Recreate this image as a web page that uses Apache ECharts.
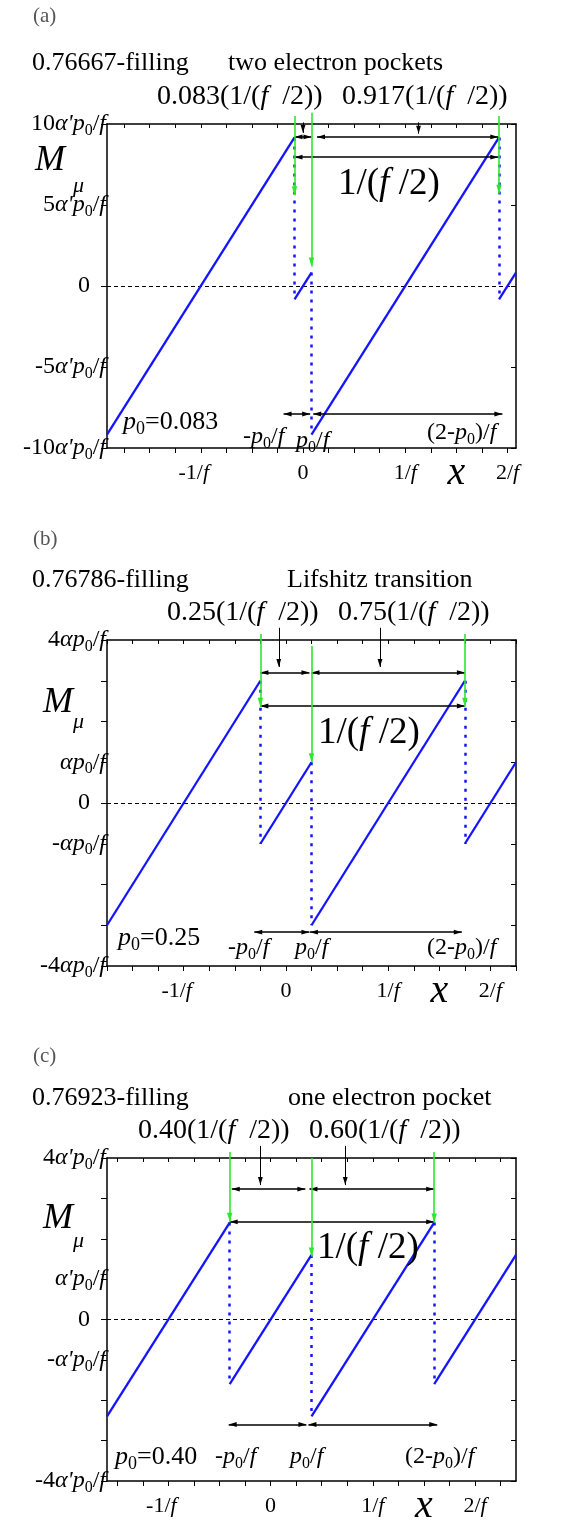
<!DOCTYPE html>
<html><head><meta charset="utf-8">
<script src="https://cdn.jsdelivr.net/npm/echarts@6/dist/echarts.min.js"></script>
<style>html,body{margin:0;padding:0;background:#fff}#c{width:567px;height:1526px}</style>
</head><body><div id="c"></div>
<script>
// ---------------- data ----------------
const panelTags = ['(a)', '(b)', '(c)'];
const fillings = ['0.76667-filling', '0.76786-filling', '0.76923-filling'];
const regimes = ['two electron pockets', 'Lifshitz transition', 'one electron pocket'];
const p0Values = ['0.083', '0.25', '0.40'];
const shortFractions = ['0.083', '0.25', '0.40'];
const longFractions = ['0.917', '0.75', '0.60'];
const xLimits = [[-1.917, 2.083], [-1.75, 2.25], [-1.6, 2.4]];
const yLimits = [[-10, 10], [-4, 4], [-4, 4]];
const xTickValues = [
  [-1.75, -1.5, -1.25, -1, -0.75, -0.5, -0.25, 0, 0.25, 0.5, 0.75, 1, 1.25, 1.5, 1.75, 2],
  [-1.75, -1.5, -1.25, -1, -0.75, -0.5, -0.25, 0, 0.25, 0.5, 0.75, 1, 1.25, 1.5, 1.75, 2, 2.25],
  [-1.5, -1.25, -1, -0.75, -0.5, -0.25, 0, 0.25, 0.5, 0.75, 1, 1.25, 1.5, 1.75, 2, 2.25]
];
const xLabelValues = [-1, 0, 1, 1.5, 2];
const xLabelTexts = ['-1/{i|f}{g|}', '0', '1/{i|f}', '{x|x}', '2/{i|f}'];
const yTickValues = [[-10, -5, 0, 5, 10], [-4, -3, -2, -1, 0, 1, 2, 3, 4], [-4, -3, -2, -1, 0, 1, 2, 3, 4]];
const yLabelValues = [[-10, -5, 0, 5, 10], [-4, -1, 0, 1, 4], [-4, -1, 0, 1, 4]];
const yLabelCoefs = [['-10', '-5', '0', '5', '10'], ['-4', '-', '0', '', '4'], ['-4', '-', '0', '', '4']];
const yUnitAlpha = ["α'", 'α', "α'"];

// sawtooth M_mu segments [[x0,y0],[x1,y1]]
const sawA = [[[-1.917, -9.17], [-0.083, 9.17]], [[-0.083, -0.83], [0.083, 0.83]], [[0.083, -9.17], [1.917, 9.17]], [[1.917, -0.83], [2.083, 0.83]]];
const sawB = [[[-1.75, -3], [-0.25, 3]], [[-0.25, -1], [0.25, 1]], [[0.25, -3], [1.75, 3]], [[1.75, -1], [2.25, 1]]];
const sawC = [[[-1.6, -2.4], [-0.4, 2.4]], [[-0.4, -1.6], [0.4, 1.6]], [[0.4, -2.4], [1.6, 2.4]], [[1.6, -1.6], [2.4, 1.6]]];
// dotted jumps
const jumpA = [[[-0.083, 9.17], [-0.083, -0.83]], [[0.083, 0.83], [0.083, -9.17]], [[1.917, 9.17], [1.917, -0.83]]];
const jumpB = [[[-0.25, 3], [-0.25, -1]], [[0.25, 1], [0.25, -3]], [[1.75, 3], [1.75, -1]]];
const jumpC = [[[-0.4, 2.4], [-0.4, -1.6]], [[0.4, 1.6], [0.4, -2.4]], [[1.6, 2.4], [1.6, -1.6]]];
// green arrows
const greenA = [[[-0.083, 10.5], [-0.083, 5.6]], [[0.083, 10.7], [0.083, 1.2]], [[1.917, 10.5], [1.917, 5.7]]];
const greenB = [[[-0.25, 4.15], [-0.25, 2.36]], [[0.25, 3.85], [0.25, 1.0]], [[1.75, 4.15], [1.75, 2.36]]];
const greenC = [[[-0.4, 4.15], [-0.4, 2.42]], [[0.4, 4.0], [0.4, 1.56]], [[1.6, 4.15], [1.6, 2.4]]];
// black double arrows (top row, full period, bottom row) and pointers
const spanTopA = [[[-0.083, 9.2], [0.083, 9.2]], [[0.137, 9.2], [1.91, 9.2]]];
const spanTopB = [[[-0.25, 3.2], [0.23, 3.2]], [[0.25, 3.2], [1.75, 3.2]]];
const spanTopC = [[[-0.38, 3.23], [0.34, 3.23]], [[0.38, 3.23], [1.6, 3.23]]];
const spanFullA = [[[-0.083, 7.95], [1.91, 7.95]]];
const spanFullB = [[[-0.25, 2.38], [1.75, 2.38]]];
const spanFullC = [[[-0.4, 2.42], [1.6, 2.42]]];
const spanBotA = [[[-0.19, -7.9], [0.07, -7.9]], [[0.1, -7.9], [1.95, -7.9]]];
const spanBotB = [[[-0.31, -3.17], [0.23, -3.17]], [[0.235, -3.17], [1.72, -3.17]]];
const spanBotC = [[[-0.41, -2.6], [0.35, -2.6]], [[0.37, -2.6], [1.63, -2.6]]];
const pointerA = [[[0, 10.1], [0, 9.45]], [[1.13, 10.1], [1.13, 9.4]]];
const pointerB = [[[-0.07, 4.3], [-0.07, 3.34]], [[0.92, 4.3], [0.92, 3.34]]];
const pointerC = [[[-0.1, 4.3], [-0.1, 3.33]], [[0.73, 4.3], [0.73, 3.33]]];

const saws = [sawA, sawB, sawC];
const jumps = [jumpA, jumpB, jumpC];
const greens = [greenA, greenB, greenC];
const spanTops = [spanTopA, spanTopB, spanTopC];
const spanFulls = [spanFullA, spanFullB, spanFullC];
const spanBots = [spanBotA, spanBotB, spanBotC];
const pointers = [pointerA, pointerB, pointerC];

// ---------------- layout / style ----------------
const FONT = 'Liberation Serif';
const BLUE = '#1414ff';
const GREEN = '#2ee82e';
const grids = [
  { left: 107, top: 124, width: 409, height: 324 },
  { left: 107, top: 640, width: 409, height: 326 },
  { left: 107, top: 1158, width: 409, height: 324 }
];
const ARROW = 'path://M0,0M20,20M10,10L13,20L7,20Z';

function richSet(S) {
  return {
    i: { fontStyle: 'italic', fontSize: S, fontFamily: FONT, color: '#000' },
    s: { fontSize: Math.round(S * 0.68), fontFamily: FONT, color: '#000', padding: [Math.round(S * 0.55), 0, 0, 0] },
    x: { fontStyle: 'italic', fontSize: 40, fontFamily: FONT, color: '#000' },
    z: { fontSize: S, fontFamily: FONT, color: '#000', padding: [0, 16, 0, 0] },
    g: { fontSize: S, fontFamily: FONT, color: '#000', padding: [0, 14, 0, 0] }
  };
}

const xAxes = [], yAxes = [], series = [], graphics = [];

function seg(i, data, lineStyle, extra) {
  series.push(Object.assign({
    type: 'lines', coordinateSystem: 'cartesian2d', xAxisIndex: 2 * i, yAxisIndex: 2 * i,
    polyline: false, silent: true, clip: false, symbol: 'none',
    lineStyle: Object.assign({ opacity: 1, curveness: 0 }, lineStyle),
    data: data.map(c => ({ coords: c }))
  }, extra || {}));
}

for (let i = 0; i < 3; i++) {
  const [xmin, xmax] = xLimits[i];
  const [ymin, ymax] = yLimits[i];
  const axisLineStyle = { color: '#000', width: 1.5 };
  xAxes.push({
    gridIndex: i, type: 'value', min: xmin, max: xmax, position: 'bottom',
    axisLine: { onZero: false, lineStyle: axisLineStyle },
    axisTick: { customValues: xTickValues[i], length: 5, lineStyle: { color: '#000', width: 1 } },
    axisLabel: {
      customValues: xLabelValues, margin: 10, fontSize: 22, fontFamily: FONT, color: '#000',
      lineHeight: 30, rich: richSet(22),
      formatter: v => xLabelTexts[xLabelValues.indexOf(v)]
    },
    splitLine: { show: false }
  });
  xAxes.push({
    gridIndex: i, type: 'value', min: xmin, max: xmax, position: 'top',
    axisLine: { onZero: false, lineStyle: axisLineStyle },
    axisTick: { customValues: xTickValues[i], inside: true, length: 4, lineStyle: { color: '#000', width: 1 } },
    axisLabel: { show: false }, splitLine: { show: false }
  });
  const unit = yUnitAlpha[i];
  yAxes.push({
    gridIndex: i, type: 'value', min: ymin, max: ymax, position: 'left',
    axisLine: { onZero: false, lineStyle: axisLineStyle },
    axisTick: { customValues: yTickValues[i], length: 6, lineStyle: { color: '#000', width: 1 } },
    axisLabel: {
      customValues: yLabelValues[i], margin: 1, fontSize: 24, fontFamily: FONT, color: '#000',
      rich: richSet(24),
      formatter: v => {
        const coef = yLabelCoefs[i][yLabelValues[i].indexOf(v)];
        if (v === 0) return '{z|0}';
        return coef + '{i|' + unit + '}{i|p}{s|0}/{i|f}';
      }
    },
    splitLine: { show: false }
  });
  yAxes.push({
    gridIndex: i, type: 'value', min: ymin, max: ymax, position: 'right',
    axisLine: { onZero: false, lineStyle: axisLineStyle },
    axisTick: { customValues: yTickValues[i], inside: true, length: 5, lineStyle: { color: '#000', width: 1 } },
    axisLabel: { show: false }, splitLine: { show: false }
  });

  // zero line
  seg(i, [[[xmin, 0], [xmax, 0]]], { color: '#000', width: 1, type: [4, 3] });
  // dotted jumps
  seg(i, jumps[i], { color: BLUE, width: 2.5, type: [3, 6] });
  // sawtooth
  seg(i, saws[i], { color: BLUE, width: 2.3 });
  // black arrows
  seg(i, spanTops[i], { color: '#000', width: 1.5 }, { symbol: [ARROW, ARROW], symbolSize: 16 });
  seg(i, spanFulls[i], { color: '#000', width: 1.5 }, { symbol: [ARROW, ARROW], symbolSize: 16 });
  seg(i, spanBots[i], { color: '#000', width: 1.5 }, { symbol: [ARROW, ARROW], symbolSize: 16 });
  seg(i, pointers[i], { color: '#000', width: 1 }, { symbol: ['none', ARROW], symbolSize: 16 });
  // green arrows
  seg(i, greens[i], { color: GREEN, width: 1.6 }, { symbol: ['none', ARROW], symbolSize: 18 });
}

// text annotations (pixel layout)
const textLayout = [
  { tag: [33, 16], fill: [32, 63], reg: [228, 63], fl: [157, 97], fr: [342, 97], big: [338, 184], M: [35, 161], mu: [73, 186], p0: [123, 422], mp: [243, 437], pp: [296, 441], tp: [427, 433] },
  { tag: [33, 539], fill: [32, 580], reg: [287, 580], fl: [167, 613], fr: [338, 613], big: [318, 733], M: [43, 703], mu: [73, 722], p0: [118, 938], mp: [228, 948], pp: [295, 948], tp: [427, 948] },
  { tag: [33, 1056], fill: [32, 1098], reg: [288, 1098], fl: [138, 1131], fr: [309, 1131], big: [317, 1248], M: [43, 1219], mu: [73, 1241], p0: [115, 1457], mp: [215, 1457], pp: [290, 1457], tp: [405, 1457] }
];
function txt(pos, text, size, opts) {
  graphics.push({
    type: 'text', x: pos[0], y: pos[1], silent: true, z: 100,
    style: Object.assign({
      text: text, fontSize: size, fontFamily: FONT, fill: '#000',
      align: 'left', verticalAlign: 'middle', rich: richSet(size)
    }, opts || {})
  });
}
for (let i = 0; i < 3; i++) {
  const L = textLayout[i];
  txt(L.tag, panelTags[i], 21, { fill: '#555' });
  txt(L.fill, fillings[i], 26);
  txt(L.reg, regimes[i], 26);
  txt(L.fl, shortFractions[i] + '(1/({i|f}  /2))', 28);
  txt(L.fr, longFractions[i] + '(1/({i|f}  /2))', 28);
  txt(L.big, '1/({i|f} /2)', 37);
  txt(L.M, 'M', 36, { fontStyle: 'italic' });
  txt(L.mu, 'μ', 22, { fontStyle: 'italic' });
  txt(L.p0, '{i|p}{s|0}=' + p0Values[i], 26);
  txt(L.mp, '-{i|p}{s|0}/{i|f}', 24);
  txt(L.pp, '{i|p}{s|0}/{i|f}', 24);
  txt(L.tp, '(2-{i|p}{s|0})/{i|f}', 24);
}

const chart = echarts.init(document.getElementById('c'), null, { renderer: 'canvas' });
chart.setOption({
  animation: false,
  backgroundColor: '#fff',
  grid: grids,
  xAxis: xAxes,
  yAxis: yAxes,
  series: series,
  graphic: graphics
});
</script></body></html>
